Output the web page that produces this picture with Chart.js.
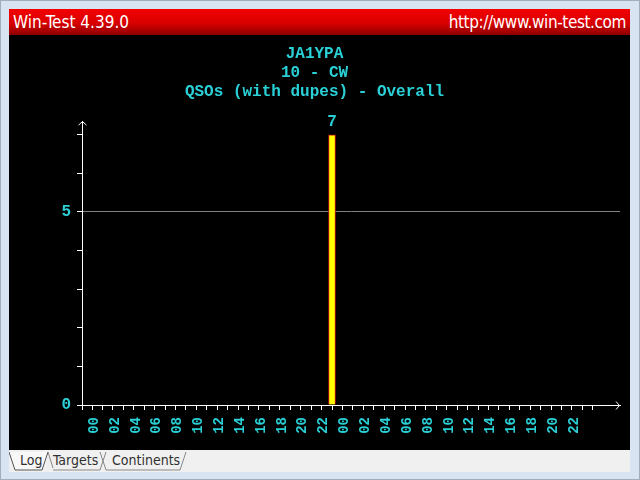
<!DOCTYPE html>
<html>
<head>
<meta charset="utf-8">
<script src="https://cdn.jsdelivr.net/npm/chart.js@4.4.1/dist/chart.umd.min.js"></script>
<style>
  html, body { margin: 0; padding: 0; }
  body { width: 640px; height: 480px; overflow: hidden; background: #d8e4f2; position: relative; }
  #frame { position: absolute; left: 0; top: 0; width: 638px; height: 478px; border: 1px solid #a3acb8; }
  #titlebar { position: absolute; left: 9px; top: 9px; width: 621px; height: 26px;
    background: linear-gradient(#f40000, #d80000 55%, #8e0000);
    color: #fff; font: 17px "Liberation Sans Narrow", "DejaVu Sans Condensed", sans-serif; }
  #titlebar .l { position: absolute; left: 4px; top: 3px; }
  #titlebar .r { position: absolute; right: 4px; top: 3px; letter-spacing: -0.4px; }
  #plot { position: absolute; left: 9px; top: 35px; width: 621px; height: 415px; background: #000; }
  #tabs { position: absolute; left: 9px; top: 450px; width: 621px; height: 22px; background: #f0f0f0;
    font: 14px "DejaVu Sans Condensed", "Liberation Sans", sans-serif; color: #303030; }
  #tabs span { position: absolute; top: 2px; }
  #tabs svg { position: absolute; left: 0; top: 0; }
</style>
</head>
<body>
<div id="frame"></div>
<div id="titlebar"><span class="l">Win-Test 4.39.0</span><span class="r">http://www.win-test.com</span></div>
<div id="plot"><canvas id="qsoChart" width="621" height="415"></canvas></div>
<div id="tabs">
  <svg width="621" height="22">
    <path d="M0,2 L6,20 L33,20 L39,2" fill="#f8f8f8" stroke="#555" stroke-width="1"/>
    <path d="M39,2 L44,18 M44,20 L91,20 L97,2" fill="none" stroke="#888" stroke-width="1"/>
    <path d="M91,2 L97,20 L171,20 L177,2" fill="none" stroke="#888" stroke-width="1"/>
  </svg>
  <span style="left:11px">Log</span>
  <span style="left:44px">Targets</span>
  <span style="left:103px">Continents</span>
</div>
<script>
// chart values
const titleLines = ['JA1YPA', '10 - CW', 'QSOs (with dupes) - Overall'];
const hourLabels = ['00', '02', '04', '06', '08', '10', '12', '14', '16', '18', '20', '22',
                    '00', '02', '04', '06', '08', '10', '12', '14', '16', '18', '20', '22'];
const qsos = [0, 0, 0, 0, 0, 0, 0, 0, 0, 0, 0, 0, 0, 0, 0, 0, 0, 0, 0, 0, 0, 0, 7, 0,
              0, 0, 0, 0, 0, 0, 0, 0, 0, 0, 0, 0, 0, 0, 0, 0, 0, 0, 0, 0, 0, 0, 0, 0];
const yTicks = [0, 1, 2, 3, 4, 5, 6, 7];
const yLabelled = [0, 5];

const cyan = '#2ad0d6';
const mono = '"Liberation Mono", "DejaVu Sans Mono", monospace';
const xMin = -0.94, xMax = 49.58;

// value above each bar
const valueLabels = {
  id: 'valueLabels',
  afterDatasetsDraw(chart) {
    const ctx = chart.ctx;
    const meta = chart.getDatasetMeta(0);
    ctx.save();
    ctx.fillStyle = cyan;
    ctx.font = 'bold 16px ' + mono;
    ctx.textAlign = 'center';
    ctx.textBaseline = 'bottom';
    meta.data.forEach((bar, i) => {
      if (qsos[i] > 0) ctx.fillText(String(qsos[i]), bar.x, bar.y - 5);
    });
    ctx.restore();
  }
};

// arrow heads at the axis ends
const axisArrows = {
  id: 'axisArrows',
  afterDraw(chart) {
    const { left, right, top, bottom } = chart.chartArea;
    const ctx = chart.ctx;
    ctx.save();
    ctx.strokeStyle = '#fff';
    ctx.lineWidth = 1;
    ctx.beginPath();
    ctx.moveTo(left - 3.5, top + 3.5);
    ctx.lineTo(left + 0.5, top);
    ctx.lineTo(left + 4.5, top + 3.5);
    ctx.moveTo(right - 4, bottom - 3.5);
    ctx.lineTo(right - 0.5, bottom + 0.5);
    ctx.lineTo(right - 4, bottom + 4.5);
    ctx.stroke();
    ctx.restore();
  }
};

new Chart(document.getElementById('qsoChart'), {
  type: 'bar',
  data: {
    datasets: [{
      // empty hours are left out so nothing shows on the axis
      data: qsos.map((v, i) => ({ x: i + 0.5, y: v > 0 ? v : null })),
      backgroundColor: '#ffff00',
      borderColor: '#c81010',
      borderWidth: 1,
      borderSkipped: 'start',
      barThickness: 7
    }]
  },
  options: {
    responsive: false,
    animation: false,
    layout: { padding: { left: 0, right: 10, top: 0, bottom: 0 } },
    plugins: {
      legend: { display: false },
      tooltip: { enabled: false },
      title: {
        display: true,
        text: titleLines,
        color: cyan,
        font: { family: mono, size: 16, weight: 'bold', lineHeight: 1.19 },
        padding: { top: 9, bottom: 20.5 }
      }
    },
    scales: {
      x: {
        type: 'linear',
        min: xMin,
        max: xMax,
        afterBuildTicks: s => {
          s.ticks = [{ value: xMin }].concat(qsos.map((v, i) => ({ value: i })));
        },
        afterFit: s => { s.height = 45; },
        grid: { drawOnChartArea: false, color: '#fff', tickColor: '#fff', tickLength: 5 },
        border: { color: '#fff' },
        ticks: {
          color: cyan,
          font: { family: mono, size: 14, weight: 'bold' },
          minRotation: 90,
          maxRotation: 90,
          autoSkip: false,
          padding: 7,
          labelOffset: -3,
          callback: v => (Number.isInteger(v) && v % 2 === 0 ? hourLabels[v / 2] : '')
        }
      },
      y: {
        min: 0,
        max: 7.34,
        afterBuildTicks: s => { s.ticks = yTicks.map(v => ({ value: v })); },
        afterFit: s => { s.width = 73; },
        grid: {
          color: ctx => (ctx.tick && ctx.tick.value === 5 ? '#808080' : 'transparent'),
          tickColor: '#fff',
          tickLength: 5
        },
        border: { color: '#fff' },
        ticks: {
          color: cyan,
          font: { family: mono, size: 16, weight: 'bold' },
          padding: 6,
          callback: v => (yLabelled.includes(v) ? String(v) : '')
        }
      }
    }
  },
  plugins: [valueLabels, axisArrows]
});
</script>
</body>
</html>
